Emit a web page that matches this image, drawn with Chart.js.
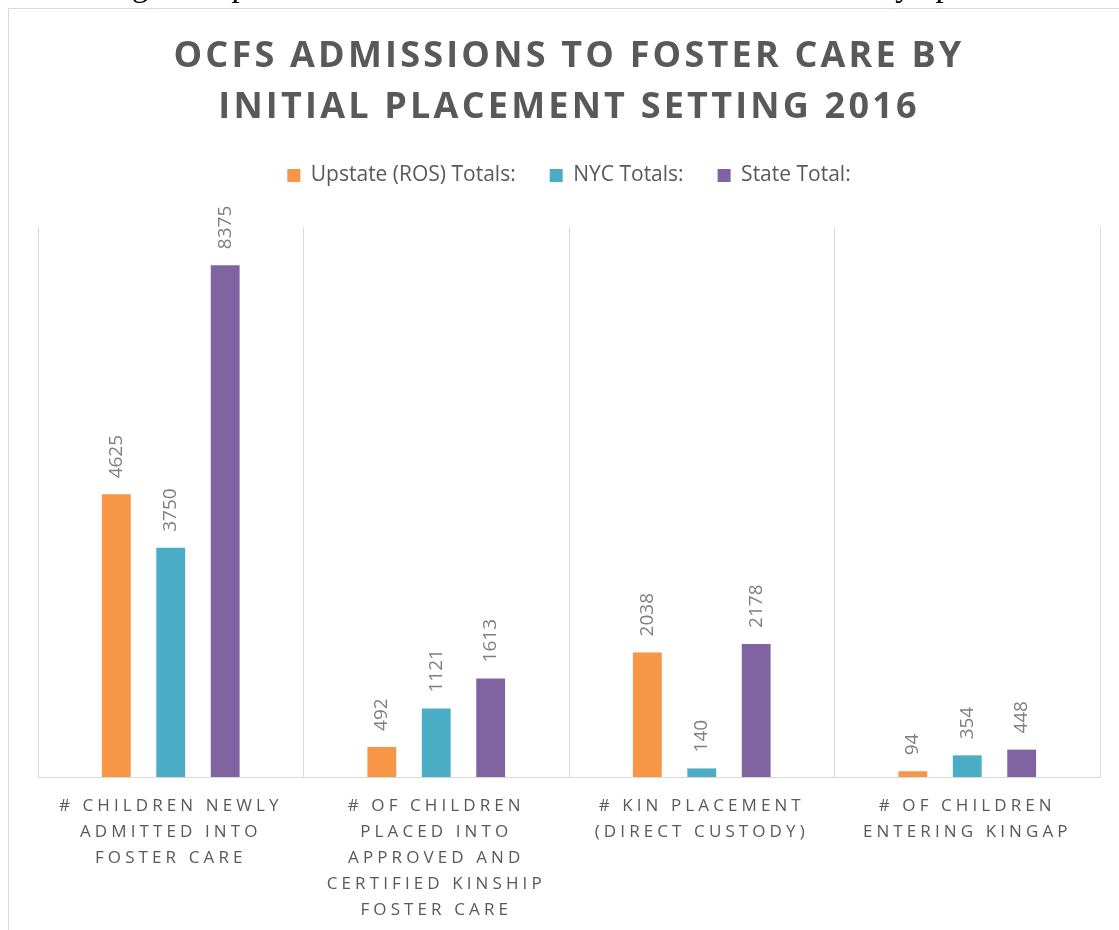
<!DOCTYPE html>
<html>
<head>
<meta charset="utf-8">
<script src="https://cdn.jsdelivr.net/npm/chart.js@4.4.1/dist/chart.umd.min.js"></script>
<style>
  html, body { margin:0; padding:0; background:#ffffff; width:1119px; height:930px; overflow:hidden; }
  #frame { position:absolute; left:8px; top:8px; width:1200px; height:1000px; border:1px solid #d9d9d9; box-sizing:border-box; }
  #doc { position:absolute; left:0; top:0; white-space:nowrap; line-height:0; font-family:"Liberation Serif","Times New Roman",serif; color:#000; font-size:30px; }
  #wrap { position:absolute; left:0; top:0; width:1119px; height:930px; }
</style>
</head>
<body>
<div id="frame"></div>
<div id="doc">The following widespread underutilization of relative foster care in many upstate counties</div>
<div id="wrap"><canvas id="c" width="1119" height="930"></canvas></div>
<script>
// ---- data ----
const titleLines = ["OCFS ADMISSIONS TO FOSTER CARE BY", "INITIAL PLACEMENT SETTING 2016"];
const categories = [
  ["# CHILDREN NEWLY", "ADMITTED INTO", "FOSTER CARE"],
  ["# OF CHILDREN", "PLACED INTO", "APPROVED AND", "CERTIFIED KINSHIP", "FOSTER CARE"],
  ["# KIN PLACEMENT", "(DIRECT CUSTODY)"],
  ["# OF CHILDREN", "ENTERING KINGAP"]
];
const seriesNames = ["Upstate (ROS) Totals:", "NYC Totals:", "State Total:"];
const upstateTotals = [4625, 492, 2038, 94];
const nycTotals = [3750, 1121, 140, 354];
const stateTotals = [8375, 1613, 2178, 448];
const seriesColors = ["#F79646", "#4BACC6", "#8064A2"];

// ---- top document line (cropped) ----
(function(){
  const doc = document.getElementById('doc');
  const tn = doc.firstChild; const txt = tn.textContent;
  function cx(i){ const r = document.createRange(); r.setStart(tn, i); r.setEnd(tn, i+1); const b = r.getBoundingClientRect(); return (b.left + b.right) / 2; }
  const ig = txt.indexOf('following') + 8;
  const ip = txt.indexOf('upstate') + 1;
  let fs = 30;
  const d = cx(ip) - cx(ig);
  fs = fs * 804 / d;
  doc.style.fontSize = fs + 'px';
  doc.style.left = (140 - cx(ig)) + 'px';
  doc.style.top = (-4.5 - 0.3375 * fs) + 'px';
})();

// ---- chart ----
const FONT = '"Open Sans", "DejaVu Sans", sans-serif';

const barLabels = {
  id: 'barLabels',
  afterDatasetsDraw(chart) {
    const ctx = chart.ctx;
    ctx.save();
    ctx.font = '19px ' + FONT;
    ctx.fillStyle = '#7f7f7f';
    ctx.textAlign = 'left';
    ctx.textBaseline = 'middle';
    chart.data.datasets.forEach((ds, i) => {
      chart.getDatasetMeta(i).data.forEach((bar, j) => {
        ctx.save();
        ctx.translate(bar.x, bar.y - 16);
        ctx.rotate(-Math.PI / 2);
        ctx.fillText(String(ds.data[j]), 0, 0);
        ctx.restore();
      });
    });
    ctx.restore();
  }
};

const datasets = [upstateTotals, nycTotals, stateTotals].map((vals, i) => ({
  label: seriesNames[i],
  data: vals,
  backgroundColor: seriesColors[i],
  borderWidth: 0,
  barPercentage: 0.53,
  categoryPercentage: 0.615
}));

const chart = new Chart(document.getElementById('c'), {
  type: 'bar',
  data: { labels: categories, datasets },
  options: {
    responsive: false,
    animation: false,
    layout: { padding: { left: 38, right: 19, top: 0, bottom: 0 } },
    plugins: {
      title: {
        display: true,
        text: titleLines,
        color: '#595959',
        font: { family: FONT, size: 36, weight: 'bold', lineHeight: 51/36 },
        padding: { top: 31, bottom: -2 }
      },
      subtitle: {
        display: true,
        text: '',
        weight: 500,
        font: { size: 1, lineHeight: 1 },
        padding: { top: 30, bottom: 0 }
      },
      legend: {
        display: true,
        position: 'top',
        labels: {
          boxWidth: 13, boxHeight: 13,
          padding: 34,
          color: '#595959',
          font: { family: FONT, size: 21 }
        }
      },
      tooltip: { enabled: false }
    },
    scales: {
      x: {
        grid: { display: true, color: '#d9d9d9', lineWidth: 1, drawTicks: false, offset: true },
        border: { display: true, color: '#d9d9d9', width: 1 },
        ticks: {
          color: '#595959',
          font: { family: FONT, size: 17, lineHeight: 26/17 },
          padding: 16,
          maxRotation: 0, minRotation: 0, autoSkip: false
        },
        afterFit(scale) { scale.height = 153; }
      },
      y: {
        display: false,
        min: 0, max: 9000
      }
    }
  },
  plugins: [barLabels]
});

function spaced(obj, name, spacing) {
  const orig = obj[name];
  obj[name] = function(...args) {
    const c = this.ctx;
    c.save();
    c.letterSpacing = spacing;
    const r = orig.apply(this, args);
    c.restore();
    return r;
  };
}
spaced(chart.titleBlock, 'draw', '3.2px');
spaced(chart.scales.x, 'drawLabels', '4.1px');
chart.draw();
</script>
</body>
</html>
